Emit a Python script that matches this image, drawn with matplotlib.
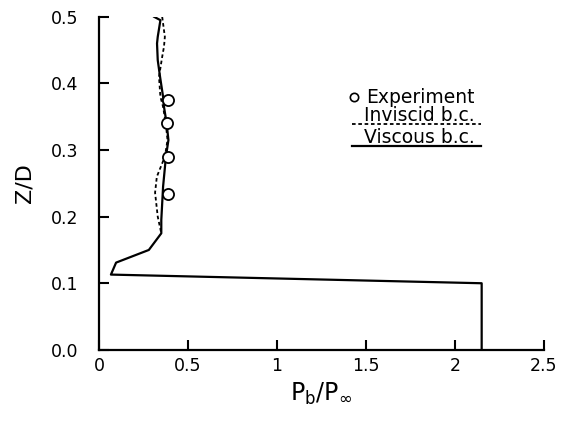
import matplotlib
matplotlib.use("Agg")
import matplotlib.pyplot as plt

# viscous b.c. (solid)
visc_x = [0.31, 0.345, 0.33, 0.326, 0.33, 0.343, 0.36, 0.365, 0.38, 0.39, 0.376, 0.36, 0.35, 0.35, 0.28, 0.096, 0.067, 2.15, 2.15]
visc_z = [0.50, 0.495, 0.47, 0.46, 0.435, 0.41, 0.38, 0.365, 0.34, 0.315, 0.29, 0.245, 0.195, 0.175, 0.15, 0.131, 0.113, 0.100, 0.0]

# inviscid b.c. (dashed)
invisc_x = [0.355, 0.37, 0.365, 0.355, 0.337, 0.345, 0.36, 0.375, 0.385, 0.37, 0.325, 0.315, 0.33, 0.35]
invisc_z = [0.50, 0.47, 0.455, 0.44, 0.41, 0.38, 0.365, 0.34, 0.315, 0.29, 0.26, 0.236, 0.20, 0.175]

# experiment
exp_x = [0.388, 0.38, 0.388, 0.388]
exp_z = [0.375, 0.341, 0.29, 0.234]

xticks = [0, 0.5, 1, 1.5, 2, 2.5]
xticklabels = ["0", "0.5", "1", "1.5", "2", "2.5"]
yticks = [0.0, 0.1, 0.2, 0.3, 0.4, 0.5]
yticklabels = ["0.0", "0.1", "0.2", "0.3", "0.4", "0.5"]

fig = plt.figure(figsize=(5.69, 4.21), dpi=100)
ax = fig.add_axes([0.174, 0.169, 0.782, 0.791])

ax.plot(invisc_x, invisc_z, color="black", lw=1.3, ls=(0, (2, 1.5)))
ax.plot(visc_x, visc_z, color="black", lw=1.6)
ax.plot(exp_x, exp_z, "o", mfc="white", mec="black", ms=8, mew=1.3)

ax.set_xlim(0, 2.5)
ax.set_ylim(0, 0.5)
ax.set_xticks(xticks)
ax.set_xticklabels(xticklabels)
ax.set_yticks(yticks)
ax.set_yticklabels(yticklabels)
ax.spines["top"].set_visible(False)
ax.spines["right"].set_visible(False)
for s in ["left", "bottom"]:
    ax.spines[s].set_linewidth(1.6)
ax.tick_params(direction="in", length=7, width=1.5, labelsize=12.5)
ax.tick_params(axis="x", pad=5)
ax.tick_params(axis="y", pad=15)

ax.set_xlabel(r"$\mathrm{P_b/P_\infty}$", fontsize=17, labelpad=4)
ax.set_ylabel("Z/D", fontsize=16, labelpad=12)

# legend
tr = ax.transAxes
ax.plot([0.572], [0.760], "o", mfc="white", mec="black", ms=6, mew=1.2, transform=tr, clip_on=False)
ax.text(0.600, 0.742, "Experiment", transform=tr, fontsize=13.5, va="baseline")
ax.text(0.595, 0.688, "Inviscid b.c.", transform=tr, fontsize=13.5, va="baseline")
ax.plot([0.569, 0.858], [0.679, 0.679], color="black", lw=1.3, ls=(0, (2, 1.5)), transform=tr, clip_on=False)
ax.text(0.595, 0.622, "Viscous b.c.", transform=tr, fontsize=13.5, va="baseline")
ax.plot([0.569, 0.858], [0.613, 0.613], color="black", lw=1.6, transform=tr, clip_on=False)

fig.savefig("out.png", dpi=100)
